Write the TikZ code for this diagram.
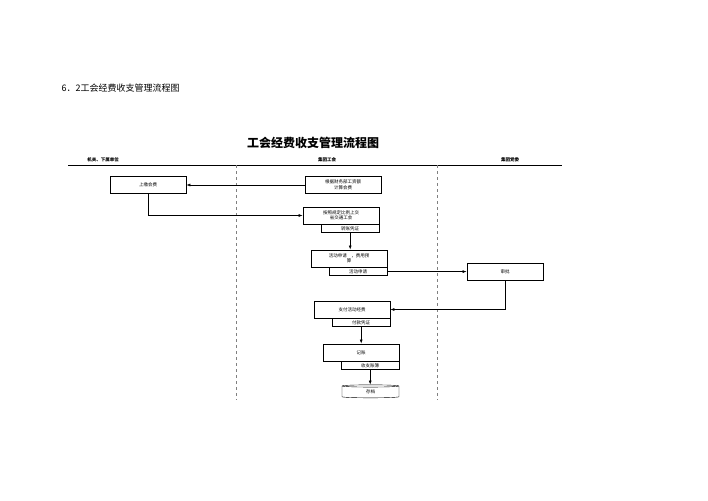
\documentclass[tikz,border=0pt]{standalone}
\usepackage{fontspec}
\newfontfamily\cjk{Noto Sans CJK SC}
\usetikzlibrary{arrows.meta,shapes.symbols,shapes.geometric}

\begin{document}
\begin{tikzpicture}[x=1pt,y=-1pt,
    box/.style={draw,thick,minimum width=76pt,minimum height=17pt,inner sep=1pt,
                font=\cjk\fontsize{4.5}{5.5}\selectfont,align=center},
    doc/.style={draw,minimum width=58pt,minimum height=8pt,inner sep=0pt,
                font=\cjk\fontsize{4.5}{5}\selectfont},
    lane/.style={font=\cjk\bfseries\fontsize{4.5}{5}\selectfont},
    flow/.style={-{Latex[length=4pt,width=3pt]},semithick}]
  \useasboundingbox (0,0) rectangle (708,500);

  % Headings
  \node[anchor=west,font=\cjk\fontsize{9}{10}\selectfont] (sec) at (58,88) {6．2工会经费收支管理流程图};
  \node[font=\cjk\bfseries\fontsize{12}{13}\selectfont] (title) at (313,143) {工会经费收支管理流程图};

  % Swim lanes
  \draw (68,165) -- (562,165);
  \draw[dashed,gray,thick] (236,165) -- (236,400);
  \draw[dashed,gray,thick] (437,165) -- (437,400);
  \node[lane] (l1) at (103,160) {机关、下属单位};
  \node[lane] (l2) at (327,160) {集团工会};
  \node[lane] (l3) at (510,160) {集团党委};

  % Process steps
  \node[box] (pay) at (148,185) {上缴会费};
  \node[box] (calc) at (343,185) {根据财务部工资额\\计算会费};
  \node[box] (hand) at (341,215.5) {按照规定比例上交\\省交通工会};
  \node[doc,anchor=north east] (tdoc) at (hand.south east) {转账凭证};
  \node[box] (apply) at (349,258.5) {活动申请\quad ，费用预\\算};
  \node[doc,anchor=north east] (adoc) at (apply.south east) {活动申请};
  \node[box] (ok) at (505,271.5) {审批};
  \node[box] (fund) at (352,309.5) {支付活动经费};
  \node[doc,anchor=north east] (fdoc) at (fund.south east) {付款凭证};
  \node[box] (book) at (361,352.5) {记账};
  \node[doc,anchor=north east] (bdoc) at (book.south east) {收支账簿};
  \node[cylinder,shape border rotate=90,draw,aspect=0.25,minimum width=57pt,
        minimum height=13pt,inner sep=0pt,font=\cjk\fontsize{4.5}{5}\selectfont] (arch) at (370.5,392) {存档};

  % Connectors
  \draw[flow] (calc) -- (pay);
  \draw[flow] (pay.south) |- (hand.west);
  \draw[flow] (tdoc.south) -- (tdoc.south |- apply.north);
  \draw[flow] (adoc.east) -- (adoc.east -| ok.west);
  \draw[flow] (ok.south) |- (fund.east);
  \draw[flow] (fdoc.south) -- (fdoc.south |- book.north);
  \draw[flow] (bdoc.south) -- (bdoc.south |- arch.north);
\end{tikzpicture}
\end{document}
